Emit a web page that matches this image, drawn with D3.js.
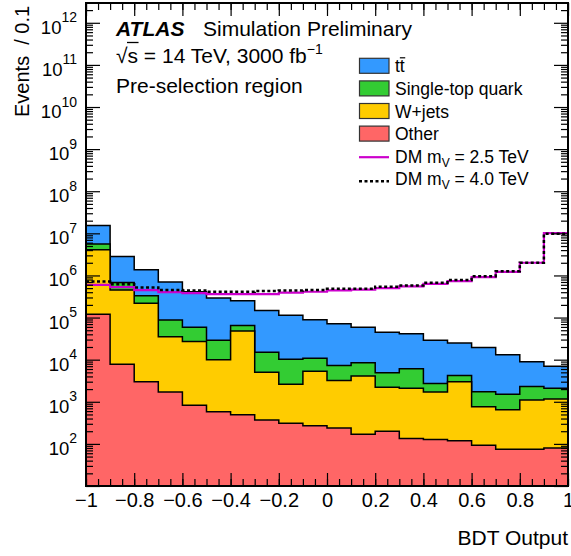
<!DOCTYPE html>
<html>
<head>
<meta charset="utf-8">
<script src="https://cdn.jsdelivr.net/npm/d3@7/dist/d3.min.js"></script>
<style>
body { margin:0; background:#fff; }
svg text { font-family: "Liberation Sans", Arial, Helvetica, sans-serif; fill:#000; }
</style>
</head>
<body>
<svg id="chart"></svg>
<script>
// bin edges of BDT output (20 bins)
var binEdges = [-1,-0.9,-0.8,-0.7,-0.6,-0.5,-0.4,-0.3,-0.2,-0.1,0,0.1,0.2,0.3,0.4,0.5,0.6,0.7,0.8,0.9,1]

// backgrounds, events per bin
var other = [1.2e5,7.8e3,3.0e3,1.7e3,830,580,490,370,310,270,240,170,200,134,127,118,93,75,75,80]
var wjets = [3.93e6,4.42e5,2.17e5,3.33e4,2.62e4,9420,4.75e4,4630,2290,5030,2960,3930,2000,1966,1573,2882,667,575,1025,1090]
var singleTop = [1.55e6,2.3e5,1.1e5,5.2e4,3.2e4,1.9e4,1.7e4,1.0e4,7600,5500,4100,4300,2700,4000,1000,1200,980,850,1200,930]
var ttbar = [9.7e6,2.12e6,1.03e6,6.13e5,3.51e5,2.61e5,1.85e5,1.32e5,1.04e5,7.82e4,6.37e4,5.06e4,4.01e4,3.49e4,2.63e4,2.08e4,1.77e4,1.15e4,6.6e3,4.9e3]

// signals
var dm25 = [6.0e5,5.3e5,4.5e5,4.0e5,3.8e5,3.6e5,3.6e5,3.6e5,3.9e5,4.1e5,4.4e5,4.6e5,5.0e5,5.5e5,6.3e5,7.3e5,9.1e5,1.22e6,2.0e6,1.01e7]
var dm40 = [7.2e5,6.2e5,5.2e5,4.5e5,4.4e5,4.1e5,4.1e5,4.3e5,4.4e5,4.5e5,4.8e5,4.8e5,5.4e5,5.8e5,6.7e5,7.8e5,9.6e5,1.26e6,2.0e6,9.8e6]

var xTickValues = [-1,-0.8,-0.6,-0.4,-0.2,0,0.2,0.4,0.6,0.8,1]
var xTickLabels = ["\u22121","\u22120.8","\u22120.6","\u22120.4","\u22120.2","0","0.2","0.4","0.6","0.8","1"]
var yExponents = [2,3,4,5,6,7,8,9,10,11,12]

var procKeys = ["other","wjets","singleTop","ttbar"]
var procColors = {ttbar:"#3399ff", singleTop:"#33cc33", wjets:"#ffcc00", other:"#ff6666"}

var screen = {width:571, height:556}
var plot = {left:86, right:568, top:3, bottom:486}

var svg = d3.select("#chart")
    .attr("width",screen.width)
    .attr("height",screen.height)

var xScale = d3.scaleLinear()
    .domain([-1,1])
    .range([plot.left,plot.right])
var yScale = d3.scaleLog()
    .domain([10, Math.pow(10,12.47)])
    .range([plot.bottom,plot.top])

// table for d3.stack
var rows = binEdges.slice(0,-1).map(function(e,i){
    return {lo:e, hi:binEdges[i+1], other:other[i], wjets:wjets[i], singleTop:singleTop[i], ttbar:ttbar[i]}
})
var layers = d3.stack().keys(procKeys)(rows)

// step points: one per edge, last edge repeats last bin
var stepPoints = function(vals){
    return binEdges.map(function(e,i){
        return {x:e, v: vals[Math.min(i, vals.length-1)]}
    })
}

var area = d3.area()
    .curve(d3.curveStepAfter)
    .x(function(d){return xScale(d.x)})
    .y0(plot.bottom)
    .y1(function(d){return yScale(d.v)})

var line = d3.line()
    .curve(d3.curveStepAfter)
    .x(function(d){return xScale(d.x)})
    .y(function(d){return yScale(d.v)})

// draw stack, largest cumulative first
layers.slice().reverse().forEach(function(layer){
    var tops = layer.map(function(d){return d[1]})
    svg.append("path")
        .datum(stepPoints(tops))
        .attr("d",area)
        .attr("fill",procColors[layer.key])
        .attr("stroke","#000")
        .attr("stroke-width",1.5)
})

svg.append("path")
    .datum(stepPoints(dm25))
    .attr("d",line)
    .attr("fill","none")
    .attr("stroke","#cc00cc")
    .attr("stroke-width",2.2)

svg.append("path")
    .datum(stepPoints(dm40))
    .attr("d",line)
    .attr("fill","none")
    .attr("stroke","#000")
    .attr("stroke-width",2.5)
    .attr("stroke-dasharray","3,2.5")

// ---- axes (ticks inward on all four sides)
var xMinor = d3.range(-1,1.0001,0.05)
var yMajor = d3.range(1,13).map(function(k){return Math.pow(10,k)})
var yMinor = []
d3.range(1,13).forEach(function(k){
    for (var m=2;m<=9;m++){
        var v = m*Math.pow(10,k)
        if (v < yScale.domain()[1]) yMinor.push(v)
    }
})

var axes = svg.append("g").attr("class","axes")
var noDomain = function(g){ g.select(".domain").remove(); g.selectAll("line").attr("stroke-width",1.2) }

axes.append("g").attr("transform","translate(0,"+plot.bottom+")")
    .call(d3.axisBottom(xScale).tickValues(xMinor).tickSize(-7).tickFormat("")).call(noDomain)
axes.append("g").attr("transform","translate(0,"+plot.top+")")
    .call(d3.axisTop(xScale).tickValues(xMinor).tickSize(-7).tickFormat("")).call(noDomain)
axes.append("g").attr("transform","translate(0,"+plot.top+")")
    .call(d3.axisTop(xScale).tickValues(xTickValues).tickSize(-13).tickFormat("")).call(noDomain)

var xAxis = axes.append("g").attr("transform","translate(0,"+plot.bottom+")")
    .call(d3.axisBottom(xScale).tickValues(xTickValues).tickSize(-13).tickPadding(7)
        .tickFormat(function(d,i){return xTickLabels[i]}))
    .call(noDomain)
xAxis.selectAll("text").attr("font-size",20).attr("font-family",null)

axes.append("g").attr("transform","translate("+plot.left+",0)")
    .call(d3.axisLeft(yScale).tickValues(yMinor).tickSize(-7).tickFormat("")).call(noDomain)
axes.append("g").attr("transform","translate("+plot.right+",0)")
    .call(d3.axisRight(yScale).tickValues(yMinor).tickSize(-7).tickFormat("")).call(noDomain)
axes.append("g").attr("transform","translate("+plot.right+",0)")
    .call(d3.axisRight(yScale).tickValues(yMajor).tickSize(-14).tickFormat("")).call(noDomain)
axes.append("g").attr("transform","translate("+plot.left+",0)")
    .call(d3.axisLeft(yScale).tickValues(yMajor).tickSize(-14).tickFormat("")).call(noDomain)

// y labels 10^n
var yLab = svg.append("g").selectAll("text")
    .data(yExponents)
    .enter()
    .append("text")
    .attr("x",77)
    .attr("y",function(k){return yScale(Math.pow(10,k))+11})
    .attr("text-anchor","end")
    .attr("font-size",18.5)
yLab.append("tspan").text("10")
yLab.append("tspan").attr("dy",-11.5).attr("font-size",14).text(function(k){return k})

// frame
svg.append("rect")
    .attr("x",plot.left).attr("y",plot.top)
    .attr("width",plot.right-plot.left).attr("height",plot.bottom-plot.top)
    .attr("fill","none").attr("stroke","#000").attr("stroke-width",2)

// axis titles
svg.append("text")
    .attr("x",plot.right).attr("y",545)
    .attr("text-anchor","end").attr("font-size",21)
    .text("BDT Output")
svg.append("text")
    .attr("transform","translate(28.5,117) rotate(-90)")
    .attr("font-size",20)
    .attr("xml:space","preserve")
    .text("Events  / 0.1")

// ATLAS label
var hdr = svg.append("g")
hdr.append("text").attr("x",116).attr("y",35.7).attr("font-size",21)
    .attr("font-weight","bold").attr("font-style","italic").text("ATLAS")
hdr.append("text").attr("x",203).attr("y",35.7).attr("font-size",21).text("Simulation Preliminary")
var rs = hdr.append("text").attr("x",116).attr("y",63.3).attr("font-size",21)
rs.append("tspan").text("\u221As = 14 TeV, 3000 fb")
rs.append("tspan").attr("dy",-9).attr("font-size",14).text("\u22121")
var sx0 = rs.node().getStartPositionOfChar(1).x
var sx1 = rs.node().getEndPositionOfChar(1).x
hdr.append("line").attr("x1",sx0-0.5).attr("x2",sx1+0.5).attr("y1",42.5).attr("y2",42.5)
    .attr("stroke","#000").attr("stroke-width",1.3)
hdr.append("text").attr("x",116).attr("y",93.3).attr("font-size",21).text("Pre-selection region")

// legend
var legendKeys = ["ttbar","singleTop","wjets","other"]
var legendY = [72.3,94.9,117.5,140.1,162.7,185.3]
var leg = svg.append("g")
legendKeys.forEach(function(k,i){
    leg.append("rect")
        .attr("x",359.5).attr("y",legendY[i]-14).attr("width",29.5).attr("height",15)
        .attr("fill",procColors[k]).attr("stroke","#333").attr("stroke-width",1.2)
})
var tt = leg.append("text").attr("x",395).attr("y",legendY[0]).attr("font-size",17.5).text("tt")
var tx0 = tt.node().getStartPositionOfChar(1).x
var tx1 = tt.node().getEndPositionOfChar(1).x
leg.append("line").attr("x1",tx0).attr("x2",tx1+0.5).attr("y1",legendY[0]-14.5).attr("y2",legendY[0]-14.5)
    .attr("stroke","#000").attr("stroke-width",1.2)
leg.append("text").attr("x",395).attr("y",legendY[1]).attr("font-size",17.5).text("Single-top quark")
leg.append("text").attr("x",395).attr("y",legendY[2]).attr("font-size",17.5).text("W+jets")
leg.append("text").attr("x",395).attr("y",legendY[3]).attr("font-size",17.5).text("Other")

leg.append("line").attr("x1",359).attr("x2",389).attr("y1",legendY[4]-5.5).attr("y2",legendY[4]-5.5)
    .attr("stroke","#cc00cc").attr("stroke-width",2.2)
leg.append("line").attr("x1",359).attr("x2",389).attr("y1",legendY[5]-4).attr("y2",legendY[5]-4)
    .attr("stroke","#000").attr("stroke-width",2.5).attr("stroke-dasharray","3,2.5")
var dmA = leg.append("text").attr("x",395).attr("y",legendY[4]).attr("font-size",17.5)
dmA.append("tspan").text("DM m")
dmA.append("tspan").attr("dy",4).attr("font-size",12).text("V")
dmA.append("tspan").attr("dy",-4).text(" = 2.5 TeV")
var dmB = leg.append("text").attr("x",395).attr("y",legendY[5]).attr("font-size",17.5)
dmB.append("tspan").text("DM m")
dmB.append("tspan").attr("dy",4).attr("font-size",12).text("V")
dmB.append("tspan").attr("dy",-4).text(" = 4.0 TeV")
</script>
</body>
</html>
